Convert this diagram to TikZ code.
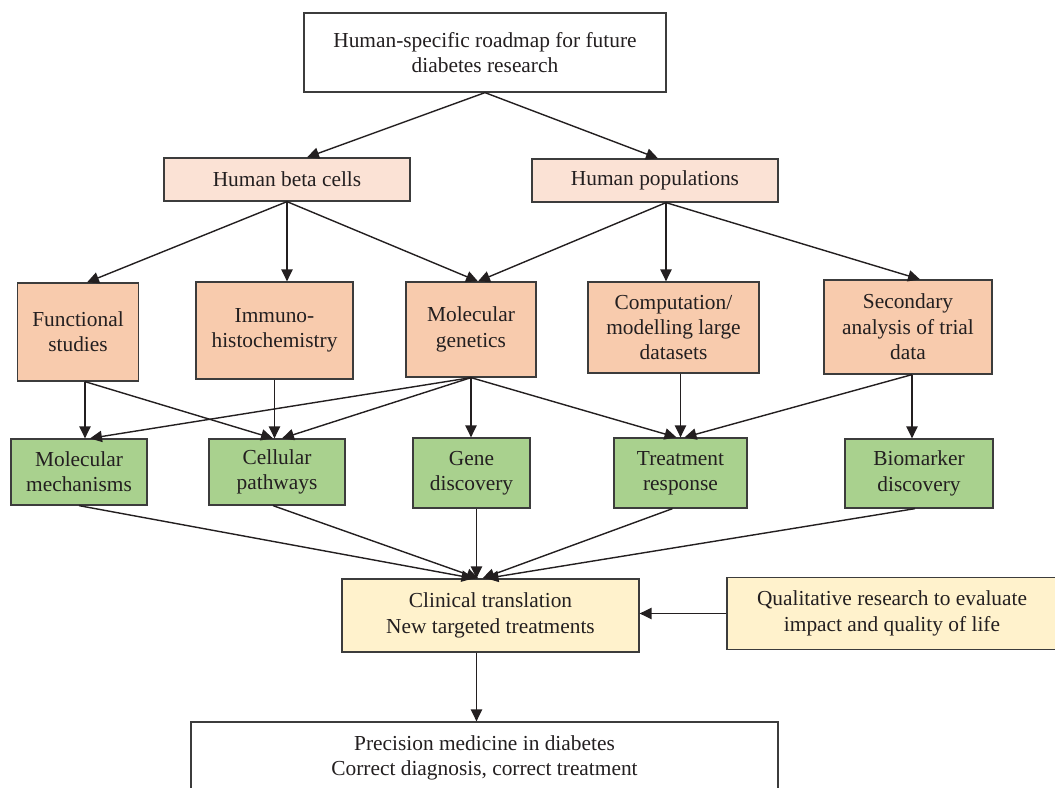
\documentclass[tikz,border=0pt]{standalone}
\usepackage{fontspec}
\setmainfont{Liberation Serif}
\usetikzlibrary{arrows.meta}
\definecolor{peachlight}{HTML}{FBE2D5}
\definecolor{peach}{HTML}{F8CBAD}
\definecolor{leaf}{HTML}{A9D18E}
\definecolor{cream}{HTML}{FFF2CC}
\definecolor{ink}{HTML}{231F20}
\definecolor{frame}{HTML}{3C3C3C}
\begin{document}
\begin{tikzpicture}[x=0.025cm, y=-0.025cm, >={Triangle[length=8.5pt,width=8pt]},
    every node/.style={draw=frame, line width=0.9pt, text=ink, align=center,
    inner sep=0pt, font=\fontsize{15.2}{18}\selectfont},
    boxsize/.style 2 args={minimum width=#1*0.025cm, minimum height=#2*0.025cm},
    link/.style={->, draw=ink, line width=1pt}]
  \useasboundingbox (0,0) rectangle (1055,788);
  \node[boxsize={362}{79}, fill=white] (top) at (485,52.5) {Human-specific roadmap for future\\diabetes research};
  \node[boxsize={246}{43}, fill=peachlight] (beta) at (287,179.5) {Human beta cells};
  \node[boxsize={246}{43}, fill=peachlight] (pop) at (655,180.5) {Human populations};
  \node[boxsize={121}{98}, fill=peach] (func) at (78,332) {Functional\\studies};
  \node[boxsize={157}{97}, fill=peach] (immuno) at (274.5,330.5) {Immuno-\\histochemistry};
  \node[boxsize={130}{95}, fill=peach] (molgen) at (471,329.5) {Molecular\\genetics};
  \node[boxsize={171}{91}, fill=peach] (comp) at (673.5,327.5) {Computation/\\modelling large\\datasets};
  \node[boxsize={168}{94}, fill=peach] (sec) at (908,327) {Secondary\\analysis of trial\\data};
  \node[boxsize={136}{66}, fill=leaf] (mech) at (79,472) {Molecular\\mechanisms};
  \node[boxsize={136}{66}, fill=leaf] (cell) at (277,472) {Cellular\\pathways};
  \node[boxsize={117}{70}, fill=leaf] (gene) at (471.5,473) {Gene\\discovery};
  \node[boxsize={133}{70}, fill=leaf] (treat) at (680.5,473) {Treatment\\response};
  \node[boxsize={148}{69}, fill=leaf] (bio) at (919,473.5) {Biomarker\\discovery};
  \node[boxsize={297}{73}, fill=cream] (clin) at (490.5,615.5) {Clinical translation\\New targeted treatments};
  \node[boxsize={330}{72}, fill=cream] (qual) at (892,613.5) {Qualitative research to evaluate\\impact and quality of life};
  \node[boxsize={587}{72}, fill=white] (prec) at (484.5,758) {Precision medicine in diabetes\\Correct diagnosis, correct treatment};
  \coordinate (popout) at ([xshift=0.275cm]pop.south);
  \coordinate (funcout) at ([xshift=0.175cm]func.south);
  \coordinate (secout) at ([xshift=0.1cm]sec.south);
  \draw[link] (top.south) -- ([xshift=0.5cm]beta.north);
  \draw[link] (top.south) -- ([xshift=0.075cm]pop.north);
  \draw[link] (beta.south) -- ([xshift=0.225cm]func.north);
  \draw[link] (beta.south) -- (beta.south |- immuno.north);
  \draw[link] (beta.south) -- ([xshift=0.175cm]molgen.north);
  \draw[link] (popout) -- ([xshift=0.175cm]molgen.north);
  \draw[link] (popout) -- (popout |- comp.north);
  \draw[link] (popout) -- ([xshift=0.3cm]sec.north);
  \draw[link] (funcout) -- (funcout |- mech.north);
  \draw[link] (funcout) -- ([xshift=-0.1cm]cell.north);
  \draw[link] (immuno.south) -- (immuno.south |- cell.north);
  \draw[link] (molgen.south) -- ([xshift=0.275cm]mech.north);
  \draw[link] (molgen.south) -- ([xshift=0.125cm]cell.north);
  \draw[link] (molgen.south) -- (molgen.south |- gene.north);
  \draw[link] (molgen.south) -- ([xshift=-0.1cm]treat.north);
  \draw[link] (treat.north |- comp.south) -- (treat.north);
  \draw[link] (secout) -- ([xshift=0.1cm]treat.north);
  \draw[link] (secout) -- (secout |- bio.north);
  \draw[link] (mech.south) -- ([xshift=-0.425cm]clin.north);
  \draw[link] ([xshift=-0.1cm]cell.south) -- ([xshift=-0.3cm]clin.north);
  \draw[link] ([xshift=0.125cm]gene.south) -- ([xshift=0.125cm]gene.south |- clin.north);
  \draw[link] ([xshift=-0.2cm]treat.south) -- ([xshift=-0.2cm]clin.north);
  \draw[link] ([xshift=-0.1cm]bio.south) -- ([xshift=-0.1cm]clin.north);
  \draw[link] (qual.west) -- (qual.west -| clin.east);
  \draw[link] ([xshift=-0.35cm]clin.south) -- ([xshift=-0.35cm]clin.south |- prec.north);
\end{tikzpicture}
\end{document}
